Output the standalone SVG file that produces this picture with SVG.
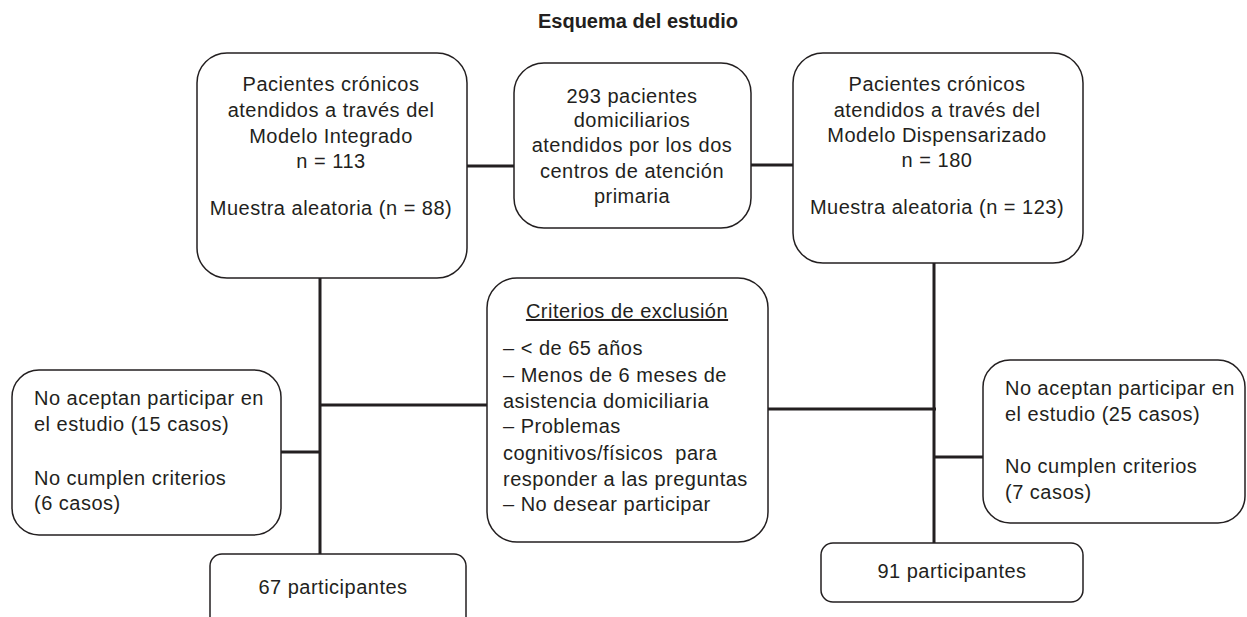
<svg xmlns="http://www.w3.org/2000/svg" width="1247" height="617" viewBox="0 0 1247 617">
<style>
.box{fill:#fff;stroke:#231f20;stroke-width:1.5}
.t{font-family:"Liberation Sans",Arial,sans-serif;font-size:20px;letter-spacing:0.5px;fill:#231f20}
.c{text-anchor:middle}
.title{font-family:"Liberation Sans",Arial,sans-serif;font-size:20px;font-weight:bold;fill:#231f20;text-anchor:middle}
.conn{stroke:#231f20;stroke-width:3;fill:none}
</style>
<rect width="1247" height="617" fill="#fff"/>
<text class="title" x="638" y="28">Esquema del estudio</text>
<g id="connectors">
<line class="conn" x1="467" y1="166" x2="514" y2="166"/>
<line class="conn" x1="751" y1="165" x2="793" y2="165"/>
<line class="conn" x1="320" y1="278" x2="320" y2="554"/>
<line class="conn" x1="281" y1="452" x2="320" y2="452"/>
<line class="conn" x1="320" y1="405" x2="487" y2="405"/>
<line class="conn" x1="934" y1="263" x2="934" y2="543"/>
<line class="conn" x1="768" y1="409" x2="936" y2="409"/>
<line class="conn" x1="934" y1="457" x2="983" y2="457"/>
</g>
<g id="n-integrado">
<rect class="box" x="197" y="53" width="270" height="225" rx="30"/>
<text class="t c" x="331" y="91">Pacientes crónicos</text>
<text class="t c" x="331" y="117">atendidos a través del</text>
<text class="t c" x="331" y="143">Modelo Integrado</text>
<text class="t c" x="331" y="168">n = 113</text>
<text class="t c" x="331" y="215">Muestra aleatoria (n = 88)</text>
</g>
<g id="n-total">
<rect class="box" x="514" y="63" width="237" height="165" rx="30"/>
<text class="t c" x="632" y="103">293 pacientes</text>
<text class="t c" x="632" y="127">domiciliarios</text>
<text class="t c" x="632" y="152">atendidos por los dos</text>
<text class="t c" x="632" y="178">centros de atención</text>
<text class="t c" x="632" y="203">primaria</text>
</g>
<g id="n-dispensarizado">
<rect class="box" x="793" y="53" width="290" height="210" rx="30"/>
<text class="t c" x="937" y="91">Pacientes crónicos</text>
<text class="t c" x="937" y="117">atendidos a través del</text>
<text class="t c" x="937" y="142">Modelo Dispensarizado</text>
<text class="t c" x="937" y="167">n = 180</text>
<text class="t c" x="937" y="214">Muestra aleatoria (n = 123)</text>
</g>
<g id="n-excl-izq">
<rect class="box" x="12" y="370" width="269" height="165" rx="27"/>
<text class="t" x="34" y="405">No aceptan participar en</text>
<text class="t" x="34" y="431">el estudio (15 casos)</text>
<text class="t" x="34" y="485">No cumplen criterios</text>
<text class="t" x="34" y="510">(6 casos)</text>
</g>
<g id="n-criterios">
<rect class="box" x="487" y="278" width="281" height="264" rx="30"/>
<text class="t c" x="627" y="318" text-decoration="underline">Criterios de exclusión</text>
<text class="t" x="503" y="355">– &lt; de 65 años</text>
<text class="t" x="503" y="382">– Menos de 6 meses de</text>
<text class="t" x="503" y="408">asistencia domiciliaria</text>
<text class="t" x="503" y="433">– Problemas</text>
<text class="t" x="503" y="460" style="white-space:pre">cognitivos/físicos  para</text>
<text class="t" x="503" y="486">responder a las preguntas</text>
<text class="t" x="503" y="511">– No desear participar</text>
</g>
<g id="n-excl-der">
<rect class="box" x="983" y="360" width="262" height="163" rx="27"/>
<text class="t" x="1005" y="395">No aceptan participar en</text>
<text class="t" x="1005" y="421">el estudio (25 casos)</text>
<text class="t" x="1005" y="473">No cumplen criterios</text>
<text class="t" x="1005" y="499">(7 casos)</text>
</g>
<g id="n-67">
<rect class="box" x="210" y="554" width="256" height="80" rx="12"/>
<text class="t c" x="333" y="594">67 participantes</text>
</g>
<g id="n-91">
<rect class="box" x="821" y="543" width="262" height="59" rx="12"/>
<text class="t c" x="952" y="578">91 participantes</text>
</g>
</svg>
